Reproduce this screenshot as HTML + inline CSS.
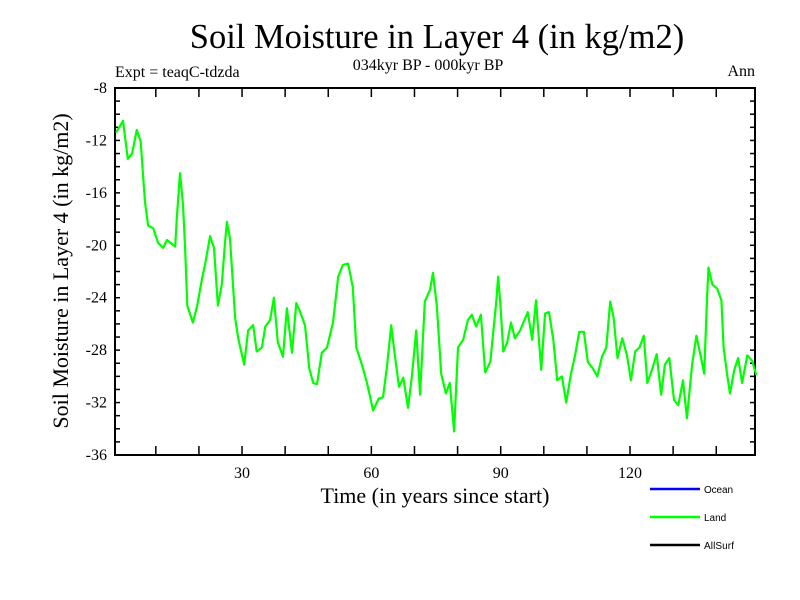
<!DOCTYPE html>
<html><head><meta charset="utf-8"><style>
body{margin:0;background:#fff;}
svg{display:block;font-family:"Liberation Serif",serif;}
</style></head><body>
<svg id="chart" width="800" height="600" viewBox="0 0 800 600">
<rect width="800" height="600" fill="#fff"/>
<text x="437" y="48" font-size="34.5" text-anchor="middle">Soil Moisture in Layer 4 (in kg/m2)</text>
<text x="428" y="70" font-size="16" text-anchor="middle">034kyr BP - 000kyr BP</text>
<text x="115" y="77" font-size="16">Expt = teaqC-tdzda</text>
<text x="755" y="76" font-size="16" text-anchor="end">Ann</text>
<g id="axes"></g>
<g id="series"></g>
<text x="435" y="503" font-size="22" text-anchor="middle">Time (in years since start)</text>
<text transform="translate(68,271) rotate(-90)" font-size="22" text-anchor="middle">Soil Moisture in Layer 4 (in kg/m2)</text>
<g font-family="Liberation Sans, sans-serif" font-size="10">
<g><line x1="650" y1="489" x2="700" y2="489" stroke="#0000ff" stroke-width="2.5"/><text x="704" y="493" textLength="29">Ocean</text></g>
<g><line x1="650" y1="517" x2="700" y2="517" stroke="#00ff00" stroke-width="2.5"/><text x="704" y="521">Land</text></g>
<g><line x1="650" y1="545" x2="700" y2="545" stroke="#000" stroke-width="2.5"/><text x="704" y="549" textLength="30">AllSurf</text></g>
</g>
</svg>
<script>
const years=[0.8,2.4,3.5,4.5,5.6,6.5,7,7.5,8.2,9.4,10.5,11.7,12.6,14.5,14.9,15.6,16.3,16.8,17.3,18.6,19.6,20.7,21.4,22.6,23.5,24.4,25.3,26,26.5,27.2,28.4,29.1,30.5,31.4,32.6,33.4,34.6,35.4,36.5,37.4,38.3,39.5,40.4,41.6,42.6,43.5,44.6,45.6,46.5,47.4,48.5,49.7,51.1,52.3,53.4,54.6,55.7,56.5,57.8,59,60.4,61.7,62.7,63.6,64.6,65.3,66.4,67.4,68.5,69.4,70.4,71.3,72.4,73.6,74.3,75.2,76.2,77.3,78.2,79.2,80.1,81.3,82.4,83.3,84.3,85.4,86.4,87.6,88.4,89,89.4,89.9,90.6,91.5,92.4,93.3,94.5,96.3,97.3,98.2,99.4,100.3,101.2,102.2,103.1,104.2,105.2,106.3,107.3,108.2,109.3,110.2,111.4,112.4,113.5,114.5,115.4,116.2,117.1,118.2,119.3,120.2,121.2,122.2,123.2,124,125.1,126.2,127.2,128.1,129.1,130.2,131.2,132.3,133.2,134.4,135.4,136.3,137.2,137.9,138.2,139.1,140.2,141.2,141.7,142.5,143.2,144.2,145.1,146,147.2,148.3,149.3];
const landValues=[-11.4,-10.5,-13.4,-13.0,-11.2,-12.1,-14.5,-16.7,-18.5,-18.7,-19.8,-20.2,-19.6,-20.1,-17.8,-14.5,-16.9,-20.2,-24.6,-25.9,-24.6,-22.6,-21.5,-19.3,-20.2,-24.6,-23.0,-20.0,-18.2,-19.5,-25.5,-27.1,-29.1,-26.5,-26.1,-28.1,-27.8,-26.2,-25.7,-24.0,-27.4,-28.5,-24.8,-28.2,-24.4,-25.1,-26.1,-29.4,-30.5,-30.6,-28.2,-27.8,-25.9,-22.4,-21.5,-21.4,-23.2,-27.8,-29.1,-30.5,-32.6,-31.7,-31.6,-29.3,-26.1,-28.0,-30.8,-30.1,-32.4,-30.0,-26.5,-31.4,-24.3,-23.4,-22.1,-24.7,-29.8,-31.3,-30.5,-34.2,-27.8,-27.2,-25.7,-25.3,-26.2,-25.3,-29.7,-28.9,-26.2,-24.2,-22.4,-24.4,-28.1,-27.4,-25.9,-27.1,-26.5,-25.1,-27.2,-24.2,-29.5,-25.2,-25.1,-27.2,-30.3,-30.0,-32.0,-29.8,-28.3,-26.6,-26.6,-28.9,-29.4,-30.0,-28.5,-27.8,-24.3,-25.5,-28.6,-27.1,-28.4,-30.3,-28.1,-27.8,-26.9,-30.5,-29.5,-28.3,-31.4,-29.1,-28.6,-31.8,-32.2,-30.3,-33.2,-29.1,-26.9,-28.3,-29.8,-23.7,-21.7,-23.0,-23.3,-24.2,-27.8,-29.8,-31.3,-29.5,-28.6,-30.5,-28.4,-28.8,-29.9];
const xTickLabels=[30,60,90,120];
const yTickLabels=[-8,-12,-16,-20,-24,-28,-32,-36];
const NS='http://www.w3.org/2000/svg';
const L=115,R=755,T=88,B=455;
function xs(v){return 112.7+v*4.311;}
function ys(v){return T+(-8-v)*(B-T)/28;}
const axes=document.getElementById('axes');
function mk(tag,attrs,parent){const e=document.createElementNS(NS,tag);for(const k in attrs)e.setAttribute(k,attrs[k]);parent.appendChild(e);return e;}
const frame=mk('rect',{x:L,y:T,width:R-L,height:B-T,fill:'none',stroke:'#000','stroke-width':2},axes);


for(let v=10;v<=140;v+=10){
  const x=xs(v);
  const t1=mk('line',{x1:x,y1:B,x2:x,y2:B-9,stroke:'#000','stroke-width':1.5},axes);
  
  
  const t2=mk('line',{x1:x,y1:T,x2:x,y2:T+9,stroke:'#000','stroke-width':1.5},axes);
  
  
}
for(let v=-35;v<=-9;v++){
  const y=ys(v);
  const a=mk('line',{x1:L,y1:y,x2:L+5,y2:y,stroke:'#000','stroke-width':1.5},axes);
  
  
  const b=mk('line',{x1:R,y1:y,x2:R-5,y2:y,stroke:'#000','stroke-width':1.5},axes);
  
  
}
xTickLabels.forEach(v=>{
  const t=mk('text',{x:xs(v),y:478,'font-size':16,'text-anchor':'middle'},axes);
  t.textContent=v;
  
  
});
yTickLabels.forEach(v=>{
  const t=mk('text',{x:107,y:ys(v)+5,'font-size':16,'text-anchor':'end'},axes);
  t.textContent=v;
  
  
});
const pts=years.map((yr,i)=>xs(yr).toFixed(1)+','+ys(landValues[i]).toFixed(1)).join(' ');
const line=mk('polyline',{points:pts,fill:'none',stroke:'#00ff00','stroke-width':2.2,'stroke-linejoin':'round'},document.getElementById('series'));


</script>
</body></html>
